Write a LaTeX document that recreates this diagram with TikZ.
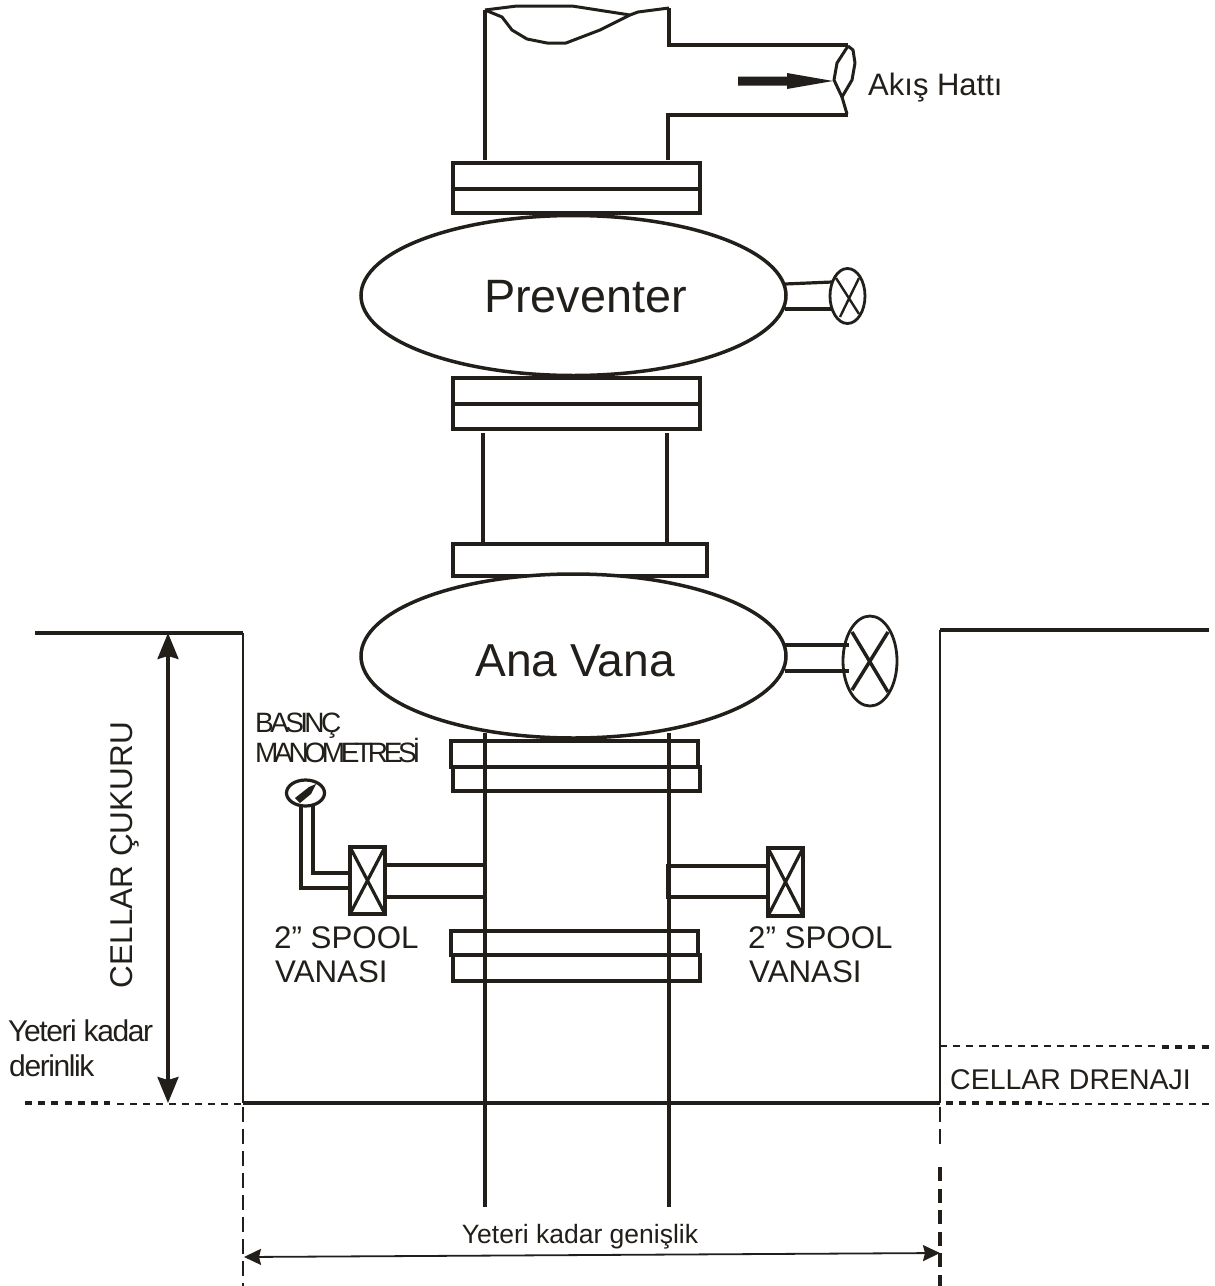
\documentclass[tikz,border=0pt]{standalone}
\usepackage{fontspec}
\setmainfont{Liberation Sans}
\newfontfamily\tightA[LetterSpace=-13]{Liberation Sans}
\newfontfamily\tightB[LetterSpace=-15.5]{Liberation Sans}
\newfontfamily\tightC[LetterSpace=-4.7]{Liberation Sans}
\usetikzlibrary{shapes.geometric,arrows.meta}
\definecolor{ink}{HTML}{221F1A}
\newcommand{\fsz}[1]{\fontsize{#1}{#1}\selectfont}
\tikzset{
  main/.style={draw=ink,line width=3.5pt,line join=miter},
  side/.style={draw=ink,line width=3.2pt},
  thinln/.style={draw=ink,line width=2.4pt},
  torn/.style={draw=ink,line width=3pt,line join=round},
  flange/.style={main,fill=white},
  body/.style={ellipse,draw=ink,line width=3.5pt,fill=white,inner sep=0pt,minimum width=425pt,minimum height=160pt},
  valve/.style={ellipse,draw=ink,fill=white,inner sep=0pt},
  txt/.style={text=ink,inner sep=0pt,anchor=base west},
  dthin/.style={draw=ink,line width=2pt,dash pattern=on 6.5pt off 6.5pt},
  dthick/.style={draw=ink,line width=4pt,dash pattern=on 7pt off 6.2pt},
  vthin/.style={draw=ink,line width=2.2pt,dash pattern=on 15pt off 7pt},
  vthick/.style={draw=ink,line width=3.6pt,dash pattern=on 14pt off 7.5pt},
  dimv/.style={draw=ink,line width=3.2pt,{Stealth[length=26pt,width=21pt,inset=3pt]}-{Stealth[length=26pt,width=21pt,inset=3pt]}},
  dimh/.style={draw=ink,line width=1.8pt,{Stealth[length=17pt,width=16pt,inset=2pt]}-{Stealth[length=17pt,width=16pt,inset=2pt]}},
}
\begin{document}
\begin{tikzpicture}[x=1pt,y=-1pt]
\useasboundingbox[fill=white] (0,0) rectangle (1215,1286);

% top torn pipe
\draw[main] (485,160) -- (485,10);
\draw[main] (669,8) -- (669,45) -- (848,45);
\draw[main] (668,160) -- (668,115) -- (848,115);
\draw[torn] (485,10) -- (517,6) -- (572,6) -- (630,15) -- (638,12) -- (669,8);
\draw[torn] (485,10) -- (502,17) -- (512,30) -- (527,39) -- (547,43) -- (566,43) -- (600,30) -- (630,15);
\draw[torn] (848,46) -- (853,50) -- (855,63) -- (852,80) -- (842,97) -- (847,114);
\draw[torn] (848,46) -- (837,63) -- (834,80) -- (842,97);
% flow arrow
\fill[ink] (738,76.5) -- (787,76.5) -- (787,73) -- (833,81) -- (787,89) -- (787,85.5) -- (738,85.5) -- cycle;
\node[txt,font=\fsz{31}] (flow) at (868,95) {Akış Hattı};

% flanges upper
\draw[flange] (453,163) rectangle (700,189);
\draw[flange] (453,189) rectangle (700,213);
\draw[flange] (453,378) rectangle (700,404);
\draw[flange] (453,404) rectangle (700,429);
\draw[main] (483,433) -- (483,543);
\draw[main] (667,433) -- (667,543);
\draw[flange] (453,544) rectangle (707,576);

% preventer
\node[body] (prev) at (573.5,295.5) {};
\node[text=ink,inner sep=0pt,anchor=base,font=\fsz{46.8}] (prevt) at (585.5,312) {Preventer};
\draw[side] (785,284) -- (832,282);
\draw[main] (785,309) -- (832,309);
\node[valve,line width=2.8pt,minimum width=35pt,minimum height=55pt] (v1) at (847.5,296) {};
\draw[draw=ink,line width=2.4pt] (836,278) -- (859,314) (859,278) -- (840,317);

% ana vana
\node[body,minimum height=164pt] (ana) at (573.5,656) {};
\node[text=ink,inner sep=0pt,anchor=base,font=\fsz{46.2}] (anat) at (575,676) {Ana Vana};
\node[valve,line width=2.8pt,minimum width=54pt,minimum height=90pt] (v2) at (870,661) {};
\draw[main] (785,645) -- (849,645);
\draw[main] (785,671) -- (849,671);
\draw[main] (852,632) -- (888,692) (888,632) -- (852,690);

% lower flanges
\draw[flange] (453,767) rectangle (700,791);
\draw[flange] (451,741) rectangle (698,767);
\draw[flange] (453,955) rectangle (700,981);
\draw[flange] (451,931) rectangle (698,955);
\draw[main] (485,733) -- (485,1207);
\draw[main] (669,733) -- (669,1207);

% left spool valve and gauge
\draw[side] (385,865) -- (485,865);
\draw[side] (385,897) -- (485,897);
\draw[main] (301,805) -- (301,888) -- (350,888);
\draw[main] (313,805) -- (313,873) -- (350,873);
\node[ellipse,draw=ink,line width=3.2pt,fill=white,inner sep=0pt,minimum width=38pt,minimum height=26pt] (gauge) at (305.5,793) {};
\fill[ink] (295,798) -- (309,787) -- (316,784) -- (311,794) -- (300,803) -- cycle;
\draw[main] (350,847) rectangle (385,914);
\draw[side] (350,847) -- (385,914) (385,847) -- (350,914);

% right spool valve
\draw[side] (668,866) -- (768,866);
\draw[side] (668,897) -- (768,897);
\draw[main,line width=4.5pt] (668,864) -- (668,899);
\draw[main] (768,848) rectangle (803,916);
\draw[side] (768,848) -- (803,916) (803,848) -- (768,916);

% labels
\node[txt,font=\tightA\fsz{28}] (bas) at (255,732) {BASINÇ};
\node[txt,font=\tightB\fsz{28}] (man) at (255,762) {MANOMETRESİ};
\node[txt,font=\fsz{31.3}] (s1a) at (274,948) {2” SPOOL};
\node[txt,font=\fsz{31.3}] (s1b) at (275,982) {VANASI};
\node[txt,font=\fsz{31.3}] (s2a) at (748,948) {2” SPOOL};
\node[txt,font=\fsz{31.3}] (s2b) at (749,982) {VANASI};
\node[text=ink,inner sep=0pt,anchor=base,rotate=90,font=\fsz{31.5}] (cuk) at (132,855) {CELLAR ÇUKURU};
\node[txt,font=\tightC\fsz{30}] (y1) at (8,1041) {Yeteri kadar};
\node[txt,font=\tightC\fsz{30}] (y2) at (9,1076) {derinlik};
\node[txt,font=\fsz{28.5}] (dren) at (950,1089) {CELLAR DRENAJI};
\node[text=ink,inner sep=0pt,anchor=base,font=\fsz{26.5}] (gen) at (580,1243) {Yeteri kadar genişlik};

% cellar walls and floor
\coordinate (tl) at (243,633);
\coordinate (fl) at (243,1103);
\coordinate (tr) at (940,630);
\coordinate (fr) at (940,1103);
\coordinate (da) at (168,633);
\coordinate (db) at (168,1103);
\coordinate (wa) at (244,1257);
\coordinate (wb) at (940,1253);
\draw[main] (35,633) -- (tl);
\draw[thinln] (tl) -- (fl);
\draw[main] (fl) -- (fr);
\draw[main] (1209,630) -- (tr);
\draw[thinln] (tr) -- (fr);
\draw[dimv] (da) -- (db);
\draw[dimh] (wa) -- (wb);

% dashed extensions
\draw[dthick] (25,1103) -- (110,1103);
\draw[dthin] (117,1104) -- (243,1104);
\draw[dthick] (946,1103) -- (1042,1103);
\draw[dthin] (1046,1104) -- (1209,1104);
\draw[dthin] (940,1046) -- (1158,1046);
\draw[dthick] (1162,1047) -- (1209,1047);
\draw[vthin] (243,1107) -- (243,1286);
\draw[vthin] (940,1107) -- (940,1145);
\draw[vthick] (940,1167) -- (940,1286);
\end{tikzpicture}
\end{document}
